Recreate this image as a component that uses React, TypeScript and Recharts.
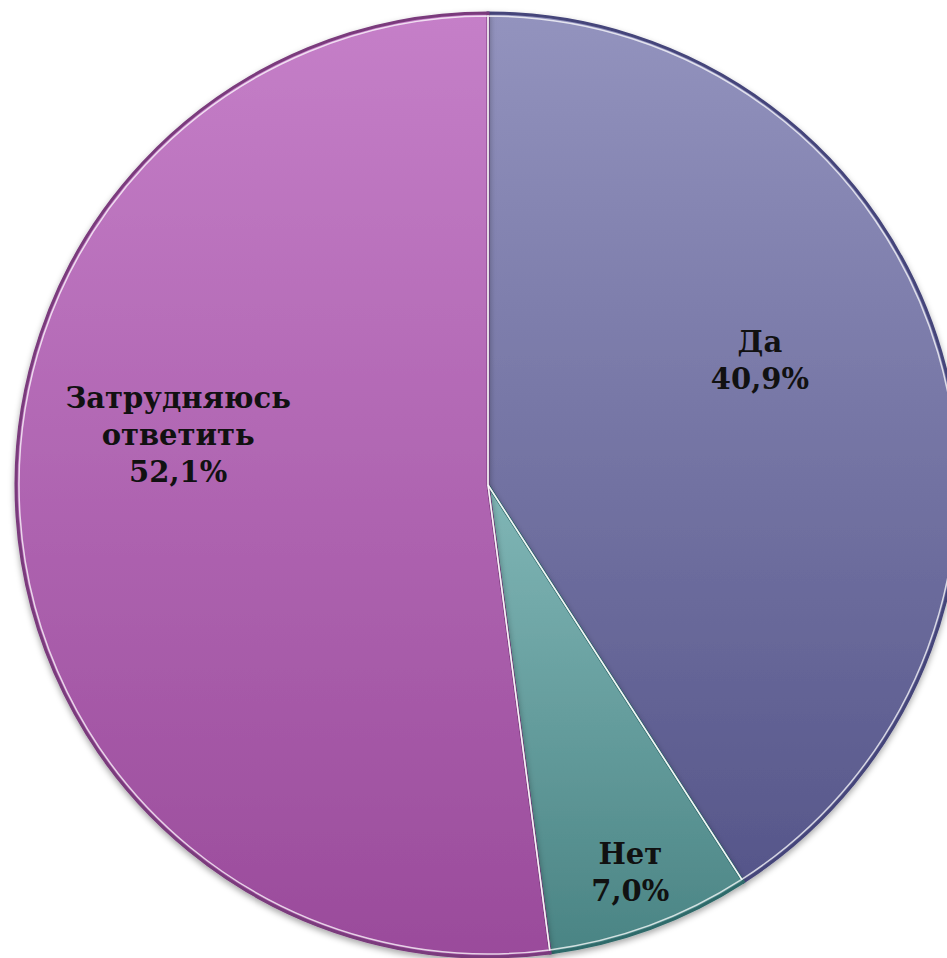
import { PieChart, Pie, Cell } from "recharts";

const categories = ["Да", "Нет", "Затрудняюсь ответить"];
const shares = [40.9, 7.0, 52.1];
const labelLines = [["Да"], ["Нет"], ["Затрудняюсь", "ответить"]];

// gradient stops (top, bottom) and edge colour per slice
const topColors = ["#9393be", "#80b6b6", "#c57fc8"];
const bottomColors = ["#56568a", "#4a8484", "#9a4b9b"];
const edgeColors = ["#45457a", "#2f6a6a", "#7a3a7c"];

// label placement tweaks: radius as part of outer radius, shift in degrees (clockwise +)
const labelRadius = [0.634, 0.875, 0.665];
const labelShift = [-8.3, 0, 13];

const data = categories.map((name, i) => ({
  name,
  value: shares[i],
  lines: labelLines[i],
}));

const RAD = Math.PI / 180;
const fmt = (v: number) => v.toFixed(1).replace(".", ",") + "%";

const renderLabel = (props: any) => {
  const { cx, cy, midAngle, outerRadius, index } = props;
  const r = outerRadius * labelRadius[index];
  const a = (midAngle - labelShift[index]) * RAD;
  const x = cx + r * Math.cos(a);
  const y = cy - r * Math.sin(a);
  const lines = [...data[index].lines, fmt(shares[index])];
  const lh = 37;
  const y0 = y - ((lines.length - 1) * lh) / 2;
  return (
    <text
      x={x}
      y={y0}
      textAnchor="middle"
      dominantBaseline="central"
      fill="#111"
      fontFamily="'DejaVu Serif', serif"
      fontWeight="bold"
      fontSize={29}
    >
      {lines.map((l, k) => (
        <tspan key={k} x={x} y={y0 + k * lh}>
          {l}
        </tspan>
      ))}
    </text>
  );
};

export default function App() {
  return (
    <div style={{ position: "absolute", left: 0, top: 0, background: "#fff" }}>
      <PieChart width={947} height={958}>
        <defs>
          {data.map((_, i) => (
            <linearGradient key={i} id={`g${i}`} x1="0" y1="0" x2="0" y2="1">
              <stop offset="0%" stopColor={topColors[i]} />
              <stop offset="100%" stopColor={bottomColors[i]} />
            </linearGradient>
          ))}
          <filter id="shadow" x="-10%" y="-10%" width="120%" height="120%">
            <feDropShadow dx="0" dy="3" stdDeviation="3" floodColor="#000" floodOpacity="0.35" />
          </filter>
        </defs>
        <Pie
          data={data}
          dataKey="value"
          nameKey="name"
          cx={483}
          cy={480}
          outerRadius={472}
          startAngle={90}
          endAngle={-270}
          isAnimationActive={false}
          label={renderLabel}
          labelLine={false}
          strokeWidth={3}
          style={{ filter: "url(#shadow)" }}
        >
          {data.map((_, i) => (
            <Cell key={i} fill={`url(#g${i})`} stroke={edgeColors[i]} />
          ))}
        </Pie>
        <Pie
          data={data}
          dataKey="value"
          nameKey="name"
          cx={483}
          cy={480}
          outerRadius={469}
          startAngle={90}
          endAngle={-270}
          isAnimationActive={false}
          fill="none"
          stroke="rgba(255,255,255,0.75)"
          strokeWidth={1.5}
        />
      </PieChart>
    </div>
  );
}
